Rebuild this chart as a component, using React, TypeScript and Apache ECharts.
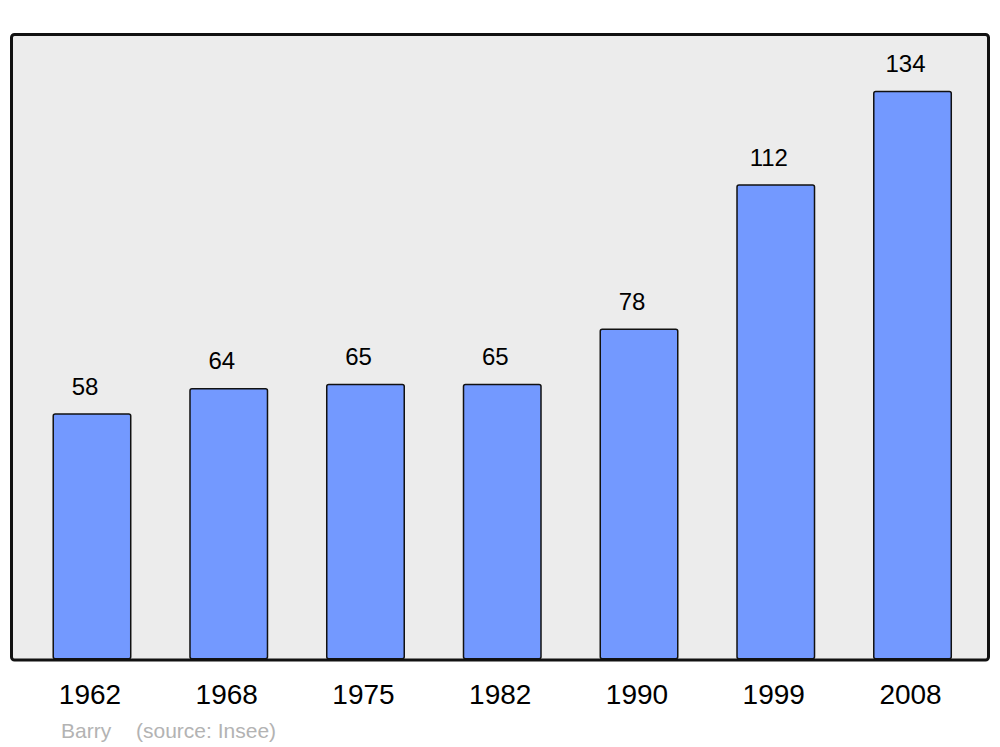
import React, { useEffect, useRef } from "react";
import * as echarts from "echarts";

const years = ["1962", "1968", "1975", "1982", "1990", "1999", "2008"];
const population = [58, 64, 65, 65, 78, 112, 134];
const footerName = "Barry";
const footerSource = "(source: Insee)";

export default function App() {
  const ref = useRef<HTMLDivElement>(null);
  useEffect(() => {
    if (!ref.current) return;
    const chart = echarts.init(ref.current, null, { renderer: "svg" });
    chart.setOption({
      animation: false,
      backgroundColor: "#ffffff",
      textStyle: { fontFamily: "Liberation Sans, Arial, sans-serif" },
      grid: { left: 23.6, right: 19.1, top: 34, bottom: 87.5, containLabel: false },
      xAxis: {
        type: "category",
        data: years,
        axisLine: { show: false },
        axisTick: { show: false },
        axisLabel: {
          color: "#000",
          fontSize: 28,
          margin: 21,
          fontFamily: "Liberation Sans, Arial, sans-serif",
          padding: [0, 4, 0, 0],
        },
      },
      yAxis: {
        type: "value",
        min: 0,
        max: 147.4,
        show: false,
        splitLine: { show: false },
      },
      graphic: [
        {
          type: "rect",
          z: -10,
          shape: { x: 11.5, y: 34.5, width: 977, height: 625.5, r: 3 },
          style: { fill: "#ececec", stroke: "#111", lineWidth: 3 },
        },
        {
          type: "text",
          x: 61,
          y: 730,
          style: {
            text: footerName,
            fill: "#b3b3b3",
            fontSize: 21,
            fontFamily: "Liberation Sans, Arial, sans-serif",
            verticalAlign: "middle",
          },
        },
        {
          type: "text",
          x: 136,
          y: 730,
          style: {
            text: footerSource,
            fill: "#b3b3b3",
            fontSize: 21,
            fontFamily: "Liberation Sans, Arial, sans-serif",
            verticalAlign: "middle",
          },
        },
      ],
      series: [
        {
          type: "bar",
          data: population,
          barWidth: 79,
          z: 5,
          itemStyle: {
            color: "#7399ff",
            borderColor: "#111",
            borderWidth: 1.5,
            borderRadius: 2,
          },
          label: {
            show: true,
            position: "top",
            distance: 15,
            offset: [-7, 0],
            color: "#000",
            fontSize: 24,
            fontFamily: "Liberation Sans, Arial, sans-serif",
          },
        },
      ],
    });
    return () => chart.dispose();
  }, []);
  return <div ref={ref} style={{ width: 1000, height: 747, position: "absolute", left: 0, top: 0 }} />;
}
